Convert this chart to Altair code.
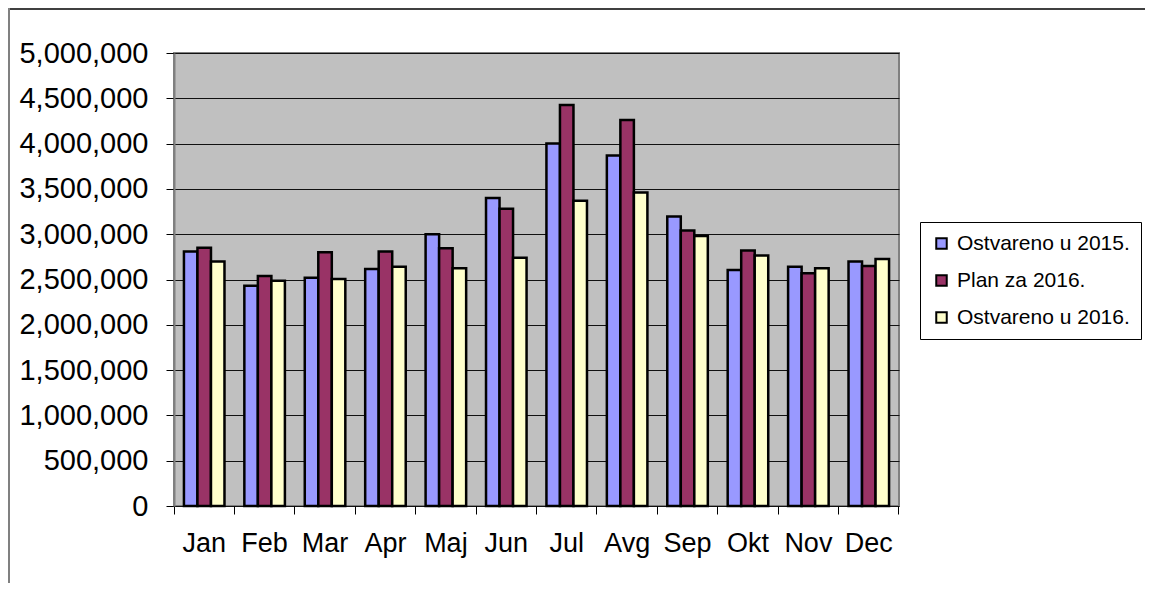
import altair as alt
import pandas as pd

months = ["Jan", "Feb", "Mar", "Apr", "Maj", "Jun", "Jul", "Avg", "Sep", "Okt", "Nov", "Dec"]
series = ["Ostvareno u 2015.", "Plan za 2016.", "Ostvareno u 2016."]
colors = ["#9999FF", "#993366", "#FFFFCC"]

ostvareno_2015 = [2810000, 2430000, 2520000, 2615000, 3000000, 3400000,
                  4000000, 3870000, 3195000, 2605000, 2640000, 2700000]
plan_2016 = [2850000, 2540000, 2800000, 2810000, 2845000, 3280000,
             4425000, 4260000, 3040000, 2820000, 2570000, 2650000]
ostvareno_2016 = [2700000, 2485000, 2505000, 2640000, 2625000, 2740000,
                  3370000, 3460000, 2980000, 2765000, 2625000, 2725000]

y_ticks = [0, 500000, 1000000, 1500000, 2000000, 2500000,
           3000000, 3500000, 4000000, 4500000, 5000000]

rows = []
for name, vals in zip(series, [ostvareno_2015, plan_2016, ostvareno_2016]):
    for m, v in zip(months, vals):
        rows.append({"month": m, "series": name, "value": v})
df = pd.DataFrame(rows)

FONT = "Liberation Sans"

bars = alt.Chart(df).mark_bar(stroke="black", strokeWidth=2.5).encode(
    x=alt.X(
        "month:N", sort=months,
        scale=alt.Scale(paddingInner=0, paddingOuter=0),
        axis=alt.Axis(
            title=None, labelAngle=0, labelFont=FONT, labelFontSize=27,
            labelColor="black", tickColor="black", tickSize=8, tickWidth=1,
            bandPosition=1, tickExtra=True, domain=False, grid=False,
            labelPadding=16,
        ),
    ),
    xOffset=alt.XOffset(
        "series:N", sort=series,
        scale=alt.Scale(paddingInner=0, paddingOuter=0.735),
    ),
    y=alt.Y(
        "value:Q",
        scale=alt.Scale(domain=[0, 5000000], nice=False),
        axis=alt.Axis(
            title=None, values=y_ticks, format=",.0f", labelFont=FONT,
            labelFontSize=29, labelColor="black", tickColor="black",
            tickSize=8, tickWidth=1, domainColor="#808080", domainWidth=2,
            gridColor="#111111", gridWidth=1, labelPadding=18,
        ),
    ),
    color=alt.Color(
        "series:N", sort=series,
        scale=alt.Scale(domain=series, range=colors),
        legend=alt.Legend(
            title=None, orient="none", legendX=746, legendY=169,
            strokeColor="black", fillColor="white", padding=11,
            symbolType="square", symbolSize=110, symbolStrokeColor="black",
            symbolStrokeWidth=2, symbolOpacity=1,
            labelFont=FONT, labelFontSize=21, labelColor="black",
            labelLimit=400, rowPadding=15, labelOffset=5,
        ),
    ),
)

top_border = alt.Chart(alt.Data(values=[{}])).mark_rule(
    color="black", strokeWidth=1.5
).encode(x=alt.value(-166), x2=alt.value(971), y=alt.value(-44))

left_border = alt.Chart(alt.Data(values=[{}])).mark_rule(
    color="#808080", strokeWidth=2
).encode(x=alt.value(-165), y=alt.value(-45), y2=alt.value(530))

chart = alt.layer(bars, top_border, left_border).properties(
    width=725,
    height=453,
    padding={"left": 166, "top": 45, "right": 246, "bottom": 77},
    autosize=alt.AutoSizeParams(type="none"),
    background="white",
).configure_view(
    fill="#C0C0C0", stroke="#808080", strokeWidth=2
)

chart.save("out.html", embed_options={"renderer": "svg", "actions": False})
